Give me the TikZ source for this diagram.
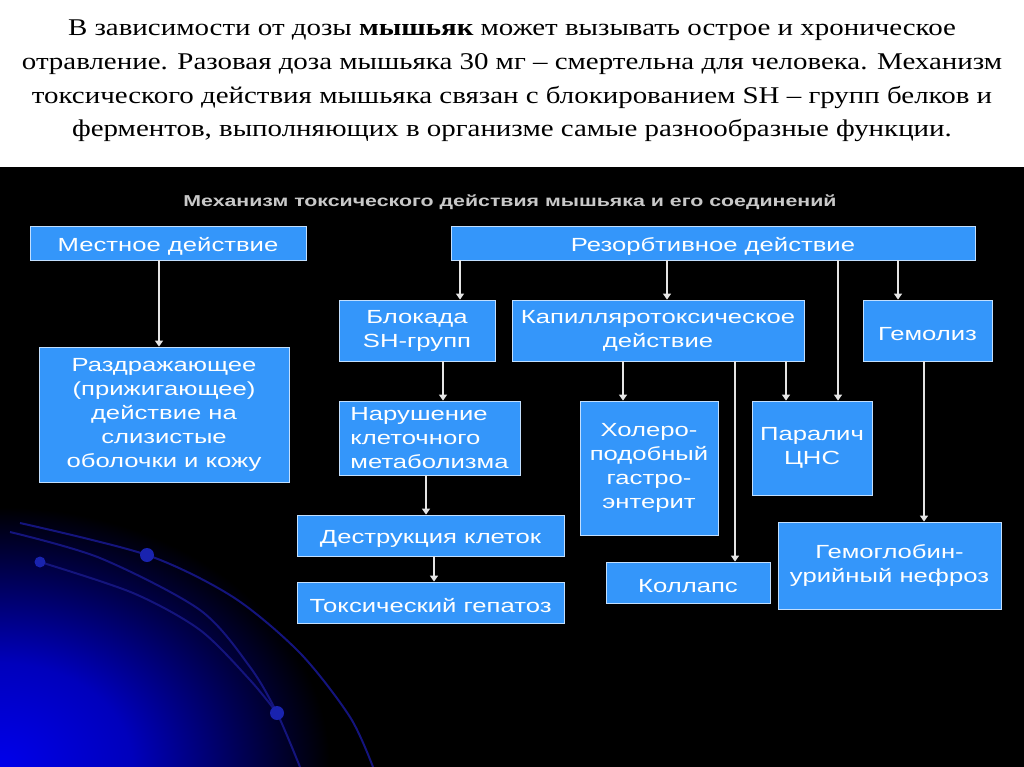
\documentclass[tikz,border=0pt]{standalone}
\usepackage{fontspec}
\setmainfont{Liberation Serif}[FakeStretch=1.205]
\newfontfamily\boxfont[FakeStretch=1.35]{Liberation Sans}
\usetikzlibrary{arrows.meta}

\definecolor{boxblue}{RGB}{52,150,250}
\definecolor{arcblue}{RGB}{20,20,125}
\definecolor{dotblue}{RGB}{25,35,175}
\definecolor{titlegray}{RGB}{200,200,200}
\definecolor{glowblue}{RGB}{0,0,235}

\pgfdeclareradialshading{glow}{\pgfpoint{0bp}{0bp}}{color(0bp)=(glowblue); color(10bp)=(glowblue!80!black); color(25bp)=(black); color(50bp)=(black)}

\tikzset{
  effect/.style={draw=white!70!boxblue, line width=0.8pt, fill=boxblue, text=white,
    font=\boxfont\fontsize{19}{24}\selectfont, inner sep=0pt, align=center,
    execute at begin node={\rule{0pt}{20.5pt}}},
  arr/.style={draw=white!90!black, line width=1.4pt, -{Triangle[width=8pt,length=6pt]}},
}

\begin{document}
\begin{tikzpicture}[x=1pt, y=-1pt]

% Background
\useasboundingbox (0,0) rectangle (1024,767);
\fill[white] (0,0) rectangle (1024,167);
\fill[black] (0,167) rectangle (1024,767);
\begin{scope}
  \clip (0,167) rectangle (1024,767);
  \shade[shading=glow] (0,767) ellipse (330 and 260);
\end{scope}

% Blue arcs and dots
\draw[arcblue, line width=2pt] plot[smooth] coordinates {(20,523) (147,555) (233,597) (300,653) (350,717) (373,767)};
\draw[arcblue, line width=2pt] plot[smooth] coordinates {(10,532) (100,558) (200,610) (250,667) (277,713) (300,767)};
\draw[arcblue, line width=2pt] plot[smooth] coordinates {(40,562) (133,593) (200,630) (250,680) (277,713)};
\fill[dotblue] (147,555) circle (7);
\fill[dotblue] (40,562) circle (5.5);
\fill[dotblue] (277,713) circle (7);

% Text on top
\node (intro) at (512,81) [align=center, font=\fontsize{24}{33.7}\selectfont]
  {В зависимости от дозы \textbf{мышьяк} может вызывать острое и хроническое\\
   отравление. Разовая доза мышьяка 30 мг – смертельна для человека. Механизм\\
   токсического действия мышьяка связан с блокированием SH – групп белков и\\
   ферментов, выполняющих в организме самые разнообразные функции.};

\node (title) at (510,202) [font=\boxfont\bfseries\fontsize{15.8}{18}\selectfont, text=titlegray]
  {Механизм токсического действия мышьяка и его соединений};

% Boxes
\node[effect, minimum width=276, minimum height=34] (mestnoe) at (168,243) {Местное действие};
\node[effect, minimum width=250, minimum height=135] (razdr) at (164,414.5) {Раздражающее\\(прижигающее)\\действие на\\слизистые\\оболочки и кожу};
\node[effect, minimum width=524, minimum height=34] (rezorb) at (713,243) {Резорбтивное действие};
\node[effect, minimum width=156, minimum height=61] (blokada) at (417,330.5) {Блокада\\SH-групп};
\node[effect, minimum width=292, minimum height=61] (kapill) at (658,330.5) {Капилляротоксическое\\действие};
\node[effect, minimum width=129, minimum height=61] (gemoliz) at (927.5,330.5) {Гемолиз};
\node[effect, minimum width=181, minimum height=74, align=left] (narush) at (429.5,438) {Нарушение\\клеточного\\метаболизма};
\node[effect, minimum width=138, minimum height=134] (holero) at (649,468) {Холеро-\\подобный\\гастро-\\энтерит};
\node[effect, minimum width=120, minimum height=94] (paralich) at (812,448) {Паралич\\ЦНС};
\node[effect, minimum width=267, minimum height=41] (destr) at (430.5,535.5) {Деструкция клеток};
\node[effect, minimum width=267, minimum height=41] (toksich) at (430.5,602.5) {Токсический гепатоз};
\node[effect, minimum width=164, minimum height=41] (kollaps) at (688,582.5) {Коллапс};
\node[effect, minimum width=223, minimum height=87] (gemoglob) at (889.5,565.5) {Гемоглобин-\\урийный нефроз};

% Arrows (from/to/column)
\foreach \a/\b/\x in {mestnoe/razdr/159, rezorb/blokada/460, rezorb/kapill/667, rezorb/paralich/838,
    rezorb/gemoliz/898, blokada/narush/443, kapill/holero/623, kapill/kollaps/735,
    kapill/paralich/786, gemoliz/gemoglob/924, narush/destr/426, destr/toksich/434}
  \draw[arr] (\a.south -| \x,0) -- (\b.north -| \x,0);

\end{tikzpicture}
\end{document}
